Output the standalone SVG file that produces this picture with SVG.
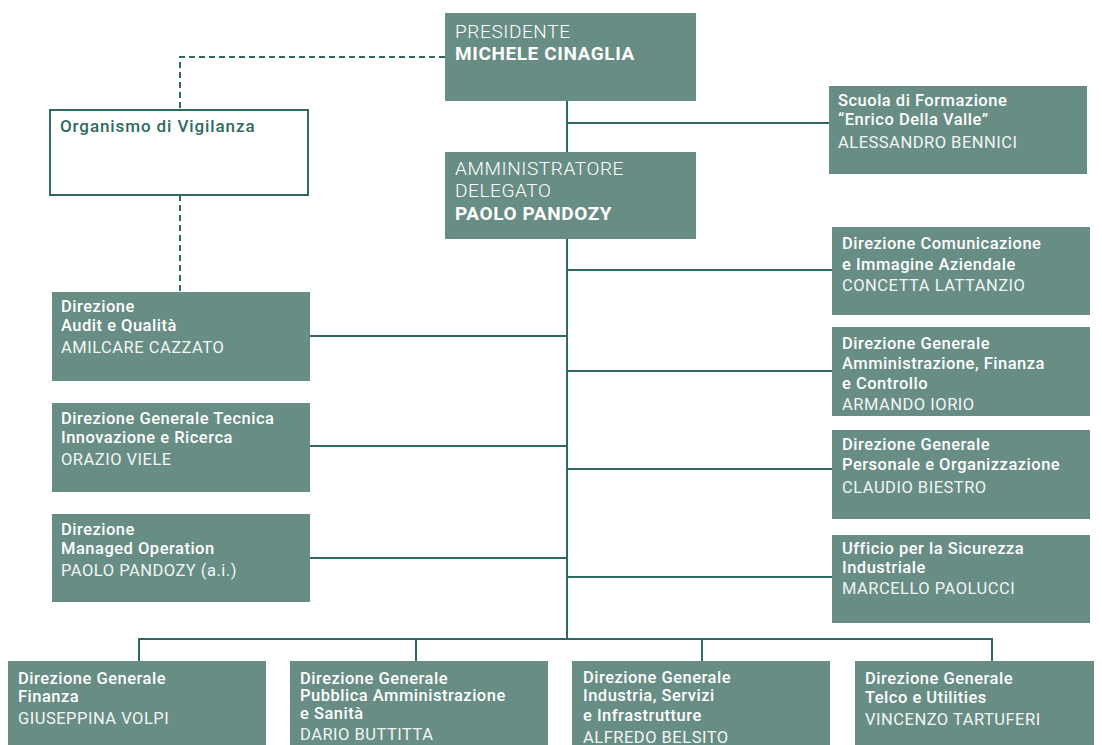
<svg xmlns="http://www.w3.org/2000/svg" width="1102" height="745" viewBox="0 0 1102 745">
<style>
.box{fill:#678d84}
.ln{stroke:#2e6a61;stroke-width:2;fill:none}
.dash{stroke:#2e6a61;stroke-width:2;fill:none;stroke-dasharray:6 4}
.t{font-family:Roboto,"Liberation Sans",sans-serif;font-size:16.5px;fill:#ffffff;letter-spacing:0.5px}
.b{font-weight:500}
.n{font-weight:400;fill:#f2f5f4}
.big{font-size:19px;letter-spacing:0.6px}
.bb{font-weight:700}
.ov{font-family:Roboto,"Liberation Sans",sans-serif;font-size:17px;font-weight:500;fill:#2e6a61;letter-spacing:0.9px}
</style>
<rect width="1102" height="745" fill="#ffffff"/>
<g id="connectors">
<path class="dash" d="M445 57H180V109M180 195V292"/>
<path class="ln" d="M567 101V639M567 123H829M567 270H832M567 371H832M567 469H832M567 577H832M310 336H567M310 446H567M310 558H567"/>
<path class="ln" d="M139 661V639H992V661M416 639V661M702 639V661"/>
</g>
<g id="presidente"><rect class="box" x="445" y="13" width="251" height="88"/>
<text class="t big" x="455" y="38" font-weight="300">PRESIDENTE</text>
<text class="t big bb" x="455" y="60">MICHELE CINAGLIA</text></g>
<g id="ad"><rect class="box" x="445" y="152" width="251" height="87"/>
<text class="t big" x="455" y="175" font-weight="300">AMMINISTRATORE</text>
<text class="t big" x="455" y="197" font-weight="300">DELEGATO</text>
<text class="t big bb" x="455" y="220">PAOLO PANDOZY</text></g>
<g id="scuola"><rect class="box" x="829" y="86" width="258" height="88"/>
<text class="t b" x="838" y="106">Scuola di Formazione</text>
<text class="t b" x="838" y="125">“Enrico Della Valle”</text>
<text class="t n" x="838" y="148">ALESSANDRO BENNICI</text></g>
<g id="organismo"><rect x="50" y="110" width="258" height="85" fill="#ffffff" stroke="#2e6a61" stroke-width="2"/>
<text class="ov" x="60" y="132">Organismo di Vigilanza</text></g>
<g id="audit"><rect class="box" x="52" y="292" width="258" height="89"/>
<text class="t b" x="61" y="312">Direzione</text>
<text class="t b" x="61" y="331">Audit e Qualità</text>
<text class="t n" x="61" y="353">AMILCARE CAZZATO</text></g>
<g id="tecnica"><rect class="box" x="52" y="403" width="258" height="89"/>
<text class="t b" x="61" y="424">Direzione Generale Tecnica</text>
<text class="t b" x="61" y="443">Innovazione e Ricerca</text>
<text class="t n" x="61" y="465">ORAZIO VIELE</text></g>
<g id="managed"><rect class="box" x="52" y="514" width="258" height="88"/>
<text class="t b" x="61" y="535">Direzione</text>
<text class="t b" x="61" y="554">Managed Operation</text>
<text class="t n" x="61" y="576">PAOLO PANDOZY (a.i.)</text></g>
<g id="comunicazione"><rect class="box" x="832" y="227" width="258" height="88"/>
<text class="t b" x="842" y="249">Direzione Comunicazione</text>
<text class="t b" x="842" y="270">e Immagine Aziendale</text>
<text class="t n" x="842" y="291">CONCETTA LATTANZIO</text></g>
<g id="amministrazione"><rect class="box" x="832" y="327" width="258" height="89"/>
<text class="t b" x="842" y="349">Direzione Generale</text>
<text class="t b" x="842" y="369">Amministrazione, Finanza</text>
<text class="t b" x="842" y="389">e Controllo</text>
<text class="t n" x="842" y="410">ARMANDO IORIO</text></g>
<g id="personale"><rect class="box" x="832" y="430" width="258" height="89"/>
<text class="t b" x="842" y="450">Direzione Generale</text>
<text class="t b" x="842" y="470">Personale e Organizzazione</text>
<text class="t n" x="842" y="493">CLAUDIO BIESTRO</text></g>
<g id="sicurezza"><rect class="box" x="832" y="535" width="258" height="88"/>
<text class="t b" x="842" y="554">Ufficio per la Sicurezza</text>
<text class="t b" x="842" y="573">Industriale</text>
<text class="t n" x="842" y="594">MARCELLO PAOLUCCI</text></g>
<g id="finanza"><rect class="box" x="8" y="661" width="258" height="84"/>
<text class="t b" x="18" y="684">Direzione Generale</text>
<text class="t b" x="18" y="702">Finanza</text>
<text class="t n" x="18" y="724">GIUSEPPINA VOLPI</text></g>
<g id="pa"><rect class="box" x="290" y="661" width="258" height="84"/>
<text class="t b" x="300" y="684">Direzione Generale</text>
<text class="t b" x="300" y="701">Pubblica Amministrazione</text>
<text class="t b" x="300" y="719">e Sanità</text>
<text class="t n" x="300" y="740">DARIO BUTTITTA</text></g>
<g id="industria"><rect class="box" x="572" y="661" width="258" height="84"/>
<text class="t b" x="583" y="683">Direzione Generale</text>
<text class="t b" x="583" y="701">Industria, Servizi</text>
<text class="t b" x="583" y="721">e Infrastrutture</text>
<text class="t n" x="583" y="743">ALFREDO BELSITO</text></g>
<g id="telco"><rect class="box" x="855" y="661" width="239" height="84"/>
<text class="t b" x="865" y="684">Direzione Generale</text>
<text class="t b" x="865" y="703">Telco e Utilities</text>
<text class="t n" x="865" y="725">VINCENZO TARTUFERI</text></g>
</svg>
